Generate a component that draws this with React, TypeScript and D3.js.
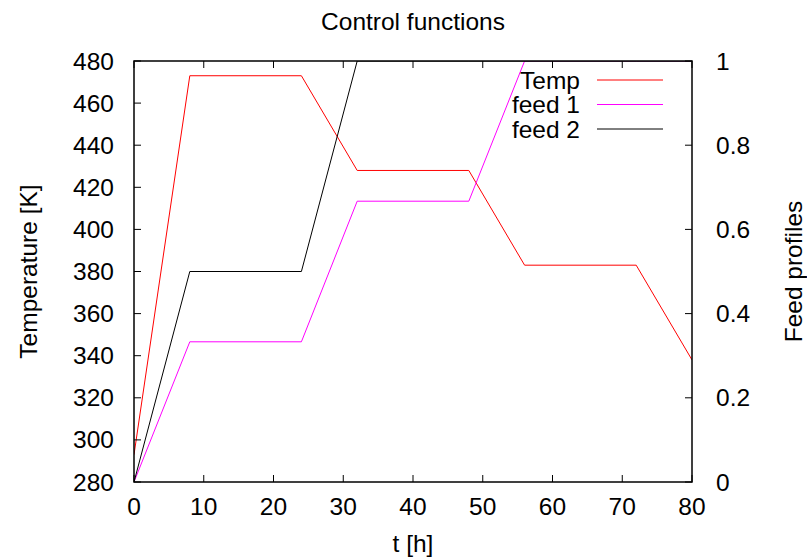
import { useEffect, useRef } from "react"
import * as d3 from "d3"

// time points of the control profiles [h]
const time = [0, 8, 24, 32, 48, 56, 72, 80]
// temperature profile [K]
const temp = [293, 473, 473, 428, 428, 383, 383, 338]
// feed profiles (right axis)
const feed1 = [0, 0.333, 0.333, 0.667, 0.667, 1, 1, 1]
const feed2 = [0, 0.5, 0.5, 1, 1, 1, 1, 1]

const xTicks = [0, 10, 20, 30, 40, 50, 60, 70, 80]
const yTicks = [280, 300, 320, 340, 360, 380, 400, 420, 440, 460, 480]
const y2Ticks = [0, 0.2, 0.4, 0.6, 0.8, 1]

const seriesNames = ["Temp", "feed 1", "feed 2"]
const seriesColors = ["#ff0000", "#ff00ff", "#000000"]

const App = () => {
  const svgRef = useRef<SVGSVGElement>(null)

  useEffect(() => {
    const svg = d3.select(svgRef.current)
    svg.selectAll("*").remove()

    const margin = { top: 61, right: 115, bottom: 78, left: 134 }
    const width = 807 - margin.left - margin.right
    const height = 560 - margin.top - margin.bottom
    const font = "'Liberation Sans', Arial, sans-serif"
    const fs = 24.5

    const x = d3.scaleLinear().domain([0, 80]).range([0, width])
    const y = d3.scaleLinear().domain([280, 480]).range([height, 0])
    const y2 = d3.scaleLinear().domain([0, 1]).range([height, 0])

    const g = svg.append("g").attr("transform", `translate(${margin.left},${margin.top})`)

    g.append("clipPath").attr("id", "plotclip")
      .append("rect").attr("width", width).attr("height", height)

    // series
    const rows = time.map((t, i) => ({ t, temp: temp[i], f1: feed1[i], f2: feed2[i] }))
    const lineTemp = d3.line<any>().x(d => x(d.t)).y(d => y(d.temp))
    const lineF1 = d3.line<any>().x(d => x(d.t)).y(d => y2(d.f1))
    const lineF2 = d3.line<any>().x(d => x(d.t)).y(d => y2(d.f2))
    const lines = [lineTemp, lineF1, lineF2]

    lines.forEach((ln, i) => {
      g.append("path")
        .datum(rows)
        .attr("clip-path", "url(#plotclip)")
        .attr("fill", "none")
        .attr("stroke", seriesColors[i])
        .attr("stroke-width", 1)
        .attr("d", ln)
    })

    // frame
    g.append("rect")
      .attr("width", width).attr("height", height)
      .attr("fill", "none").attr("stroke", "#000").attr("stroke-width", 1.5)

    const tickLen = 7
    const ticks = g.append("g").attr("stroke", "#000").attr("stroke-width", 1)
    xTicks.forEach(v => {
      ticks.append("line").attr("x1", x(v)).attr("x2", x(v)).attr("y1", height).attr("y2", height - tickLen)
      ticks.append("line").attr("x1", x(v)).attr("x2", x(v)).attr("y1", 0).attr("y2", tickLen)
    })
    yTicks.forEach(v => {
      ticks.append("line").attr("x1", 0).attr("x2", tickLen).attr("y1", y(v)).attr("y2", y(v))
    })
    y2Ticks.forEach(v => {
      ticks.append("line").attr("x1", width).attr("x2", width - tickLen).attr("y1", y2(v)).attr("y2", y2(v))
    })

    const txt = g.append("g").attr("font-family", font).attr("font-size", fs).attr("fill", "#000")

    xTicks.forEach(v => {
      txt.append("text").attr("x", x(v)).attr("y", height + 33)
        .attr("text-anchor", "middle").text(v)
    })
    yTicks.forEach(v => {
      txt.append("text").attr("x", -20).attr("y", y(v)).attr("dy", "0.35em")
        .attr("text-anchor", "end").text(v)
    })
    y2Ticks.forEach(v => {
      txt.append("text").attr("x", width + 24).attr("y", y2(v)).attr("dy", "0.35em")
        .attr("text-anchor", "start").text(v)
    })

    // titles
    txt.append("text").attr("x", width / 2).attr("y", -31)
      .attr("text-anchor", "middle").text("Control functions")
    txt.append("text").attr("x", width / 2).attr("y", height + 70)
      .attr("text-anchor", "middle").text("t [h]")
    txt.append("text")
      .attr("transform", `translate(${-97},${height / 2}) rotate(-90)`)
      .attr("text-anchor", "middle").text("Temperature [K]")
    txt.append("text")
      .attr("transform", `translate(${width + 110},${height / 2}) rotate(-90)`)
      .attr("text-anchor", "middle").text("Feed profiles")

    // legend
    const legend = g.selectAll(".legend")
      .data(seriesNames)
      .enter()
      .append("g")
      .attr("class", "legend")
      .attr("transform", (d, i) => `translate(0, ${19 + i * 24.5})`)

    legend.append("text")
      .attr("x", 446)
      .attr("dy", "0.35em")
      .attr("text-anchor", "end")
      .attr("font-family", font)
      .attr("font-size", fs)
      .text(d => d)

    legend.append("line")
      .attr("x1", 463).attr("x2", 529)
      .attr("stroke", (d, i) => seriesColors[i])
      .attr("stroke-width", 1)
  }, [])

  return (
    <svg ref={svgRef} width={807} height={560}
      style={{ position: "absolute", left: 0, top: 0, background: "#fff" }} />
  )
}

export default App
